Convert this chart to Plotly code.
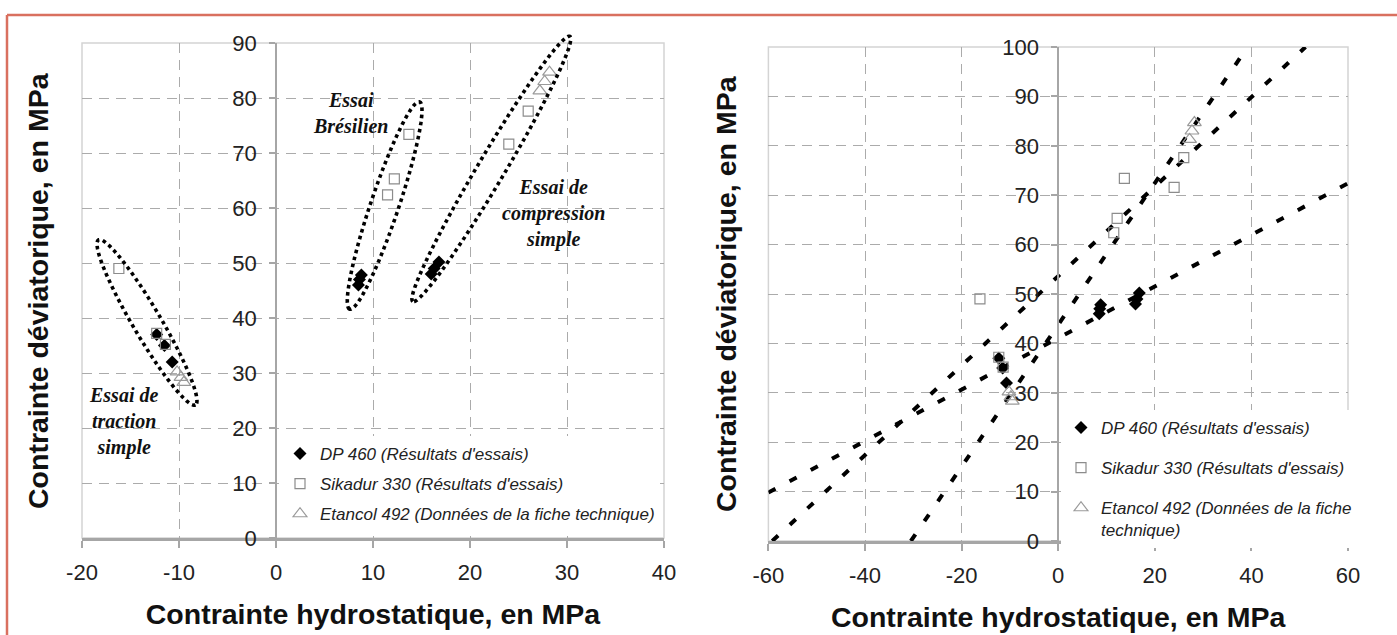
import numpy as np
import plotly.graph_objects as go

W, H = 1397, 635

# ---------------- data ----------------
# DP 460 (test results) - filled diamonds
dp460_x = [-12.3, -11.5, -10.7, 8.5, 8.6, 8.8, 16.0, 16.3, 16.8]
dp460_y = [37.0, 35.0, 32.0, 46.0, 47.0, 47.8, 48.0, 49.0, 50.2]
# Sikadur 330 (test results) - open squares
sika_x = [-16.2, -12.3, -11.4, 11.5, 12.2, 13.7, 24.0, 26.0]
sika_y = [49.0, 37.2, 35.2, 62.4, 65.3, 73.4, 71.6, 77.6]
# Etancol 492 (technical sheet) - open triangles
etan_x = [-10.2, -9.8, -9.5, 27.2, 27.7, 28.2]
etan_y = [30.2, 29.2, 28.3, 81.3, 83.0, 84.7]

# dashed criterion lines of the right chart (end points)
lineA_x = [-60.0, 60.0]
lineA_y = [9.8, 72.4]
lineB_x = [-59.2, 51.2]
lineB_y = [0.0, 100.0]
lineC_x = [-30.5, 39.2]
lineC_y = [0.0, 100.0]

# tick values
left_xticks = [-20, -10, 0, 10, 20, 30, 40]
left_yticks = [0, 10, 20, 30, 40, 50, 60, 70, 80, 90]
right_xticks = [-60, -40, -20, 0, 20, 40, 60]
right_yticks = [0, 10, 20, 30, 40, 50, 60, 70, 80, 90, 100]

# group ellipses (left chart): tip 1, tip 2 (data units), half width (px)
ell_tip1 = [(-18.3, 54.2), (14.8, 79.3), (30.3, 91.2)]
ell_tip2 = [(-8.3, 24.2), (7.6, 41.6), (14.1, 43.0)]
ell_halfw = [14.0, 14.0, 13.5]

ann_text = ["<b><i>Essai<br>Brésilien</i></b>",
            "<b><i>Essai de<br>compression<br>simple</i></b>",
            "<b><i>Essai de<br>traction<br>simple</i></b>"]
ann_pos_px = [(350, 113), (553, 213), (124, 421)]

names_left = ["<i>DP 460 (Résultats d'essais)</i>",
              "<i>Sikadur 330 (Résultats d'essais)</i>",
              "<i>Etancol 492 (Données de la fiche technique)</i>"]
names_right = ["<i>DP 460 (Résultats d'essais)</i>",
               "<i>Sikadur 330 (Résultats d'essais)</i>",
               "<i>Etancol 492 (Données de la fiche<br>technique)</i>"]

# ---------------- layout geometry (pixels) ----------------
L_px = dict(x0=82, x1=664, yt=43, yb=538)
R_px = dict(x0=768.4, x1=1348, yt=47, yb=541)
LRX, LRY = (-20, 40), (0, 90)
RRX, RRY = (-60, 60), (0, 100)

LXd = [L_px["x0"] / W, L_px["x1"] / W]
LYd = [1 - L_px["yb"] / H, 1 - L_px["yt"] / H]
RXd = [R_px["x0"] / W, R_px["x1"] / W]
RYd = [1 - R_px["yb"] / H, 1 - R_px["yt"] / H]

FONT = "Liberation Sans, Arial, sans-serif"
GRID = "#ababab"
AXC = "#a6a6a6"
TITLE_SIZE = 28.5

fig = go.Figure()

# right chart lines
for lx, ly in [(lineA_x, lineA_y), (lineB_x, lineB_y), (lineC_x, lineC_y)]:
    fig.add_trace(go.Scatter(x=lx, y=ly, mode="lines", xaxis="x2", yaxis="y2",
                             line=dict(color="black", width=4, dash="8px,16px"),
                             showlegend=False, hoverinfo="skip"))

def markers(xa, ya, leg, names, suffix):
    fig.add_trace(go.Scatter(x=dp460_x, y=dp460_y, mode="markers", xaxis=xa, yaxis=ya,
                             name=names[0], legend=leg, legendgroup="a" + suffix,
                             marker=dict(symbol="diamond", size=10, color="black")))
    fig.add_trace(go.Scatter(x=sika_x, y=sika_y, mode="markers", xaxis=xa, yaxis=ya,
                             name=names[1], legend=leg, legendgroup="b" + suffix,
                             marker=dict(symbol="square-open", size=10, color="#8c8c8c",
                                         line=dict(width=1.2))))
    fig.add_trace(go.Scatter(x=etan_x, y=etan_y, mode="markers", xaxis=xa, yaxis=ya,
                             name=names[2], legend=leg, legendgroup="c" + suffix,
                             marker=dict(symbol="triangle-up-open", size=12, color="#9a9a9a",
                                         line=dict(width=1.2))))

markers("x", "y", "legend", names_left, "L")
markers("x2", "y2", "legend2", names_right, "R")

# ellipses as paper-referenced paths
def left_to_px(x, y):
    px = L_px["x0"] + (x - LRX[0]) / (LRX[1] - LRX[0]) * (L_px["x1"] - L_px["x0"])
    py = L_px["yb"] - (y - LRY[0]) / (LRY[1] - LRY[0]) * (L_px["yb"] - L_px["yt"])
    return np.array([px, py])

shapes = []
for t1, t2, b in zip(ell_tip1, ell_tip2, ell_halfw):
    p1, p2 = left_to_px(*t1), left_to_px(*t2)
    c = (p1 + p2) / 2
    d = p2 - p1
    a = np.hypot(*d) / 2
    u = d / (2 * a)
    v = np.array([-u[1], u[0]])
    t = np.linspace(0, 2 * np.pi, 120)
    pts = c[None, :] + (a * np.cos(t))[:, None] * u + (b * np.sin(t))[:, None] * v
    path = "M " + " L ".join(f"{px / W:.5f},{1 - py / H:.5f}" for px, py in pts) + " Z"
    shapes.append(dict(type="path", path=path, xref="paper", yref="paper",
                       line=dict(color="black", width=3.6, dash="dot")))

# plot frames
for xr, yr in [("x domain", "y domain"), ("x2 domain", "y2 domain")]:
    shapes.append(dict(type="rect", xref=xr, yref=yr, x0=0, x1=1, y0=0, y1=1,
                       line=dict(color="#d4d4d4", width=1.5), layer="below"))

# outer salmon frame (top and left edges)
shapes.append(dict(type="line", xref="paper", yref="paper", x0=7 / W, x1=1.0,
                   y0=1 - 15 / H, y1=1 - 15 / H, line=dict(color="#d9705f", width=2.5)))
shapes.append(dict(type="line", xref="paper", yref="paper", x0=7 / W, x1=7 / W,
                   y0=0, y1=1 - 15 / H, line=dict(color="#d9705f", width=2.5)))

annotations = []
for txt, (ax, ay) in zip(ann_text, ann_pos_px):
    annotations.append(dict(text=txt, x=ax / W, y=1 - ay / H, xref="paper", yref="paper",
                            showarrow=False, xanchor="center", yanchor="middle",
                            font=dict(family="Liberation Serif, Times New Roman, serif",
                                      size=20, color="#111")))
for xpx, ypx in [(38, 291), (726, 294)]:
    annotations.append(dict(text="<b>Contrainte déviatorique, en MPa</b>",
                            x=xpx / W, y=1 - ypx / H, xref="paper", yref="paper",
                            showarrow=False, textangle=-90, xanchor="center", yanchor="middle",
                            font=dict(family=FONT, size=TITLE_SIZE, color="#111")))

def xaxis_cfg(dom, rng, ticks, anchor):
    return dict(domain=dom, range=list(rng), tickvals=ticks,
                ticktext=[str(v) for v in ticks], anchor=anchor, automargin=False,
                showgrid=True, gridcolor=GRID, gridwidth=1.3, griddash="10px,7px",
                zeroline=False, showline=True, linecolor=AXC, linewidth=2.5,
                ticks="outside", ticklen=7, tickcolor=AXC, tickwidth=1.5,
                ticklabelstandoff=6,
                tickfont=dict(family=FONT, size=22, color="#222"),
                title=dict(text="<b>Contrainte hydrostatique, en MPa</b>",
                           font=dict(family=FONT, size=TITLE_SIZE, color="#111"), standoff=20))

def yaxis_cfg(dom, rng, ticks, pos):
    return dict(domain=dom, range=list(rng), tickvals=ticks,
                ticktext=[str(v) for v in ticks], anchor="free", position=pos,
                automargin=False,
                showgrid=True, gridcolor=GRID, gridwidth=1.3, griddash="10px,7px",
                zeroline=False, showline=True, linecolor=AXC, linewidth=1.5,
                ticks="outside", ticklen=6, tickcolor=AXC, tickwidth=1.5,
                ticklabelstandoff=8,
                tickfont=dict(family=FONT, size=22, color="#222"))

lpos = LXd[0] + (0 - LRX[0]) / (LRX[1] - LRX[0]) * (LXd[1] - LXd[0])
rpos = RXd[0] + (0 - RRX[0]) / (RRX[1] - RRX[0]) * (RXd[1] - RXd[0])

fig.update_layout(
    width=W, height=H, autosize=False, margin=dict(l=0, r=0, t=0, b=0, pad=0),
    paper_bgcolor="white", plot_bgcolor="white",
    font=dict(family=FONT, color="#222"),
    xaxis=xaxis_cfg(LXd, LRX, left_xticks, "y"),
    yaxis=yaxis_cfg(LYd, LRY, left_yticks, lpos),
    xaxis2=xaxis_cfg(RXd, RRX, right_xticks, "y2"),
    yaxis2=yaxis_cfg(RYd, RRY, right_yticks, rpos),
    legend=dict(x=280 / W, y=1 - 436 / H, xanchor="left", yanchor="top",
                bgcolor="white", font=dict(family=FONT, size=17, color="#222"),
                tracegroupgap=5, valign="top"),
    legend2=dict(x=1061 / W, y=1 - 410 / H, xanchor="left", yanchor="top",
                 bgcolor="white", font=dict(family=FONT, size=17, color="#222"),
                 tracegroupgap=15, valign="top"),
    shapes=shapes, annotations=annotations,
    showlegend=True,
)

fig.write_html("out.html", config={"displayModeBar": False})
